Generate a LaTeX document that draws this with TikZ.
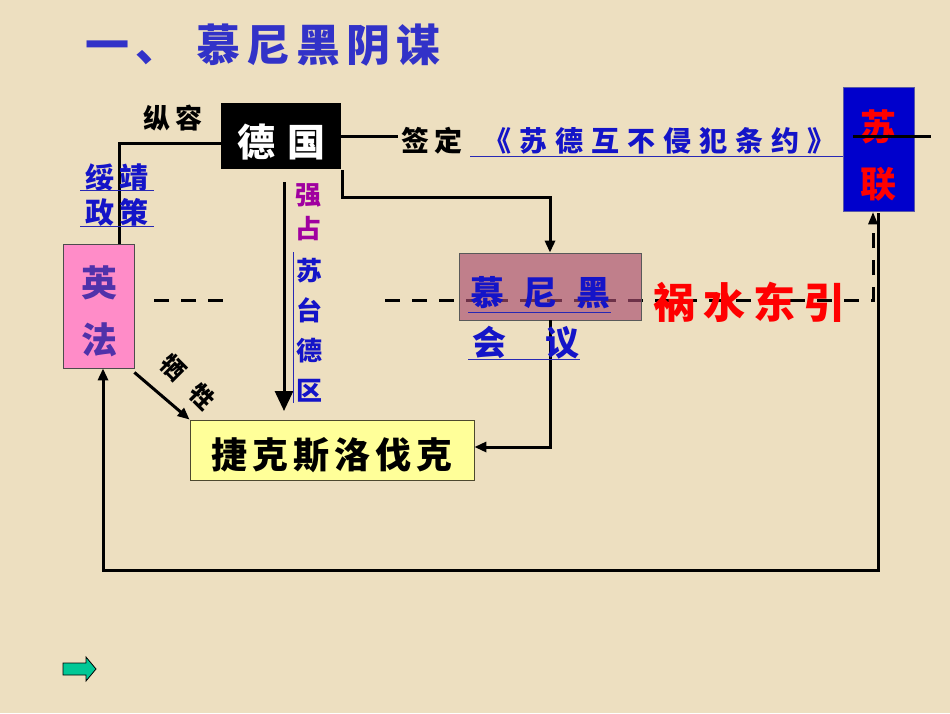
\documentclass[tikz,border=0pt]{standalone}
\usepackage{fontspec}
\newfontfamily\cjk{Noto Sans CJK SC}
\usetikzlibrary{arrows.meta}
\definecolor{bgc}{RGB}{237,223,192}
\definecolor{titleblue}{RGB}{50,50,200}
\definecolor{txtblue}{RGB}{20,20,200}
\definecolor{ulblue}{RGB}{40,40,180}
\definecolor{yfpink}{RGB}{255,140,200}
\definecolor{yftext}{RGB}{80,50,170}
\definecolor{slblue}{RGB}{0,0,204}
\definecolor{jkyellow}{RGB}{255,255,153}
\definecolor{mubox}{RGB}{168,76,112}
\definecolor{qzpurple}{RGB}{160,0,160}
\definecolor{btngreen}{RGB}{0,200,150}
\newcommand\lsp[2]{\def\lspgap{\hspace{#1}}\lspi#2\lspend}
\def\lspi#1#2\lspend{#1\ifx\relax#2\relax\else\lspgap\lspi#2\lspend\fi}
\newcommand\fs[1]{\fontsize{#1}{#1}\selectfont}
\begin{document}
\begin{tikzpicture}[x=1pt,y=-1pt,
  conn/.style={line width=3pt,black},
  tipa/.style={-{Triangle[length=12pt,width=10pt]}},
  tipb/.style={-{Triangle[length=20pt,width=18pt]}},
  dsh/.style={line width=3pt,black,dash pattern=on 15pt off 12pt},
  ul/.style={line width=1pt,ulblue},
  txt/.style={inner sep=0pt,anchor=base,font=\cjk\bfseries},
  boxn/.style={inner sep=0pt,line width=0.8pt}]
\useasboundingbox (0,0) rectangle (950,713);
\fill[bgc] (0,0) rectangle (950,713);

% title
\node[txt,anchor=base west,text=titleblue] (title) at (85,61) {\fs{44}\lsp{6pt}{一、}\hspace{17pt}\lsp{6pt}{慕尼黑阴谋}};

% boxes
\node[boxn,fill=black,draw=black,minimum width=119pt,minimum height=65pt] (de) at (280.5,135.5) {};
\node[txt,text=white] (detx) at (281.5,156) {\fs{38}德\hspace{13pt}国};

\node[boxn,fill=slblue,draw=gray!70!blue,minimum width=71pt,minimum height=124pt] (sl) at (878.5,149) {};
\node[txt,text=red] (sl1) at (878.5,140) {\fs{36}苏};
\node[txt,text=red] (sl2) at (878.5,197) {\fs{36}联};

\node[boxn,fill=yfpink,draw=black!70,minimum width=71pt,minimum height=124pt] (yf) at (98.5,306) {};
\node[txt,text=yftext] (yf1) at (99,296) {\fs{36}英};
\node[txt,text=yftext] (yf2) at (99,353) {\fs{36}法};

\node[boxn,fill=jkyellow,draw=black!60!olive,minimum width=284pt,minimum height=60pt] (jk) at (332,450) {};
\node[txt] (jktx) at (332,468) {\fs{36}\lsp{5pt}{捷克斯洛伐克}};

% dashed line (behind Munich box)
\coordinate (d1) at (154,300);
\coordinate (d2) at (226,300);
\coordinate (d3) at (385,300);
\coordinate (d4) at (873,300);
\draw[dsh] (d1) -- (d2);
\draw[dsh] (d3) -- (d4) -- ([xshift=-5.5pt,yshift=-10pt]sl.south);
\fill[black] ([xshift=-5.5pt,yshift=-1pt]sl.south) -- ++(-5,12) -- ++(10,0) -- cycle;

\node[boxn,fill=mubox,fill opacity=0.65,draw=black!65,draw opacity=1,minimum width=182pt,minimum height=67pt] (mu) at (550,286.5) {};

% connectors
\draw[conn] ([xshift=20.5pt]yf.north) |- ([yshift=-7.5pt]de.west);
\coordinate (c1) at (398,136);
\draw[conn] ([yshift=-0.5pt]de.east) -- (c1);
\coordinate (c2) at (853,136);
\coordinate (c3) at (931,136);
\draw[conn] (c2) -- (c3);
\coordinate (k0) at (342,170);
\coordinate (k1) at (550,197);
\draw[conn,tipa] (k0) |- (k1) -- (mu.north);
\coordinate (qs) at (284,182);
\coordinate (qe) at (284,411);
\draw[conn,tipb] (qs) -- (qe);
\draw[conn,tipa] (mu.south) |- ([yshift=3pt]jk.east);
\draw[conn,tipa] ([yshift=-4pt]yf.south east) -- (jk.north west);
\coordinate (b1) at (500,570);
\draw[conn,tipa] ([xshift=-0.5pt,yshift=-2pt]sl.south) |- (b1) -| ([xshift=4.5pt]yf.south);

% labels
\node[txt] (zr) at (143,128) [anchor=base west] {\fs{27}纵\hspace{5pt}容};
\node[txt,anchor=base west,text=txtblue] (sj1) at (85,188) {\fs{29}绥\hspace{5pt}靖};
\node[txt,anchor=base west,text=txtblue] (sj2) at (85,223) {\fs{29}政\hspace{5pt}策};
\draw[ul] ([xshift=-5pt,yshift=-2pt]sj1.base west) -- ([xshift=6pt,yshift=-2pt]sj1.base east);
\draw[ul] ([xshift=-5pt,yshift=-3pt]sj2.base west) -- ([xshift=6pt,yshift=-3pt]sj2.base east);

\node[txt,anchor=base west] (qd) at (401,151) {\fs{28}签\hspace{5pt}定};
\node[txt,anchor=base west,text=txtblue] (ty) at (483,151) {\fs{28}\lsp{8pt}{《苏德互不侵犯条约》}};
\draw[ul] ([xshift=-13pt,yshift=-5pt]ty.base west) -- (sl.west |- 0,156);

\node[txt,text=qzpurple] (q1) at (308,204) {\fs{26}强};
\node[txt,text=qzpurple] (q2) at (308,238) {\fs{26}占};
\node[txt,text=txtblue] (s1) at (309,280) {\fs{26}苏};
\node[txt,text=txtblue] (s2) at (309,320) {\fs{26}台};
\node[txt,text=txtblue] (s3) at (309,360) {\fs{26}德};
\node[txt,text=txtblue] (s4) at (309,400) {\fs{26}区};
\draw[ul] (293,252) -- (293,403);

\node[txt,anchor=base west,text=txtblue] (m1) at (470,305) {\fs{34}\lsp{19pt}{慕尼黑}};
\node[txt,anchor=base west,text=txtblue] (m2) at (472,355) {\fs{34}会\hspace{39pt}议};
\draw[ul] ([xshift=-2pt,yshift=-7pt]m1.base west) -- ([xshift=1pt,yshift=-7pt]m1.base east);
\draw[ul] ([xshift=-4pt,yshift=-4pt]m2.base west) -- ([xshift=1pt,yshift=-4pt]m2.base east);

\node[txt,anchor=base west,text=red] (hs) at (653,318) {\fs{42}\lsp{8pt}{祸水东引}};

\node[inner sep=0pt,font=\cjk\bfseries,rotate=-45] (xs) at (188,382) {\fs{24}牺\hspace{18pt}牲};

% green button
\filldraw[fill=btngreen,draw=black,line width=0.8pt] (63,663) -- (86,663) -- (86,657) -- (96,669) -- (86,681) -- (86,675) -- (63,675) -- cycle;
\end{tikzpicture}
\end{document}
